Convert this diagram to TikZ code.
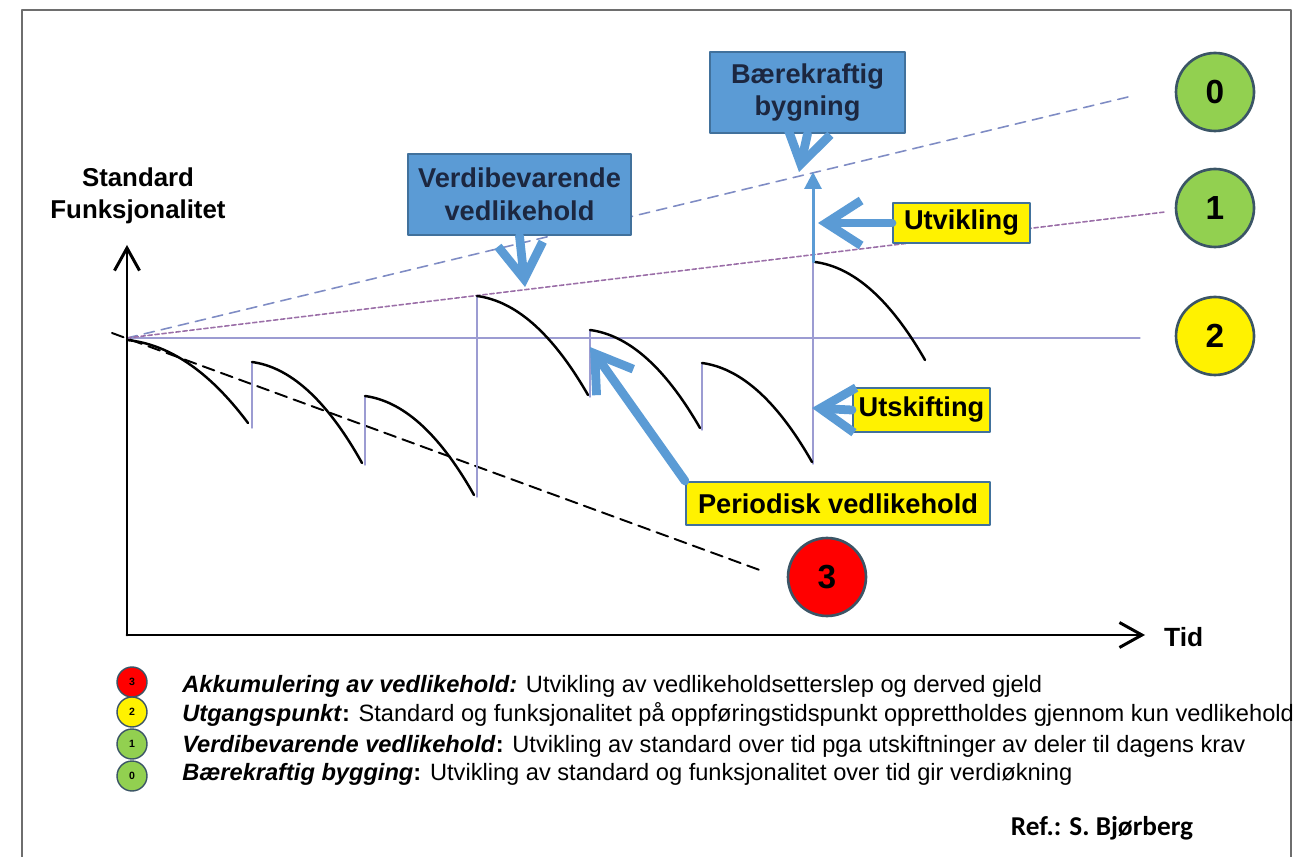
\documentclass[tikz,border=0pt]{standalone}
\usepackage{fontspec}
\setmainfont{Liberation Sans}
\newfontfamily\reffont{Carlito}
\usetikzlibrary{arrows.meta}

\definecolor{boxblue}{HTML}{5B9BD5}
\definecolor{boxedge}{HTML}{41719C}
\definecolor{navytext}{HTML}{1C2740}
\definecolor{ringedge}{HTML}{3B5566}
\definecolor{lightgreen}{HTML}{92D050}
\definecolor{lavender}{HTML}{9C9CD2}
\definecolor{dashblue}{HTML}{7F8CC4}
\definecolor{dotpurple}{HTML}{9B6FA8}
\definecolor{framegray}{HTML}{6E6E6E}

\tikzset{
  bluebox/.style={draw=boxedge, fill=boxblue, line width=1.2pt, text=navytext,
    font=\fontsize{15.5}{18.5}\selectfont\bfseries, align=center, inner sep=0pt},
  yellowbox/.style={draw=boxedge, fill=yellow, line width=1.2pt,
    font=\fontsize{15.5}{18.5}\selectfont\bfseries, inner sep=0pt},
  ring/.style={circle, draw=ringedge, line width=1.5pt, minimum size=1.56cm,
    inner sep=0pt, font=\fontsize{19}{22}\selectfont\bfseries},
  miniring/.style={circle, draw=ringedge, line width=0.8pt, minimum size=0.6cm,
    inner sep=0pt, font=\fontsize{6}{7}\selectfont\bfseries},
  fatarrow/.style={draw=boxblue, line width=5pt, -{Straight Barb[length=7mm, width=9mm]}},
  tooth/.style={line width=1.4pt},
  jump/.style={draw=lavender, line width=0.8pt},
  legtext/.style={anchor=west, inner sep=0pt, font=\fontsize{13.45}{16}\selectfont},
}

\begin{document}
\begin{tikzpicture}[x=0.02cm, y=-0.02cm, line join=round, line cap=round]
  \useasboundingbox (0,0) rectangle (1294,857);
  % frame
  \draw[framegray, line width=1pt] (22,857) |- (1291,10) -- (1291,857);

  % points of the axes and the lines
  \coordinate (O) at (127,635);
  \coordinate (yEnd) at (127,245);
  \coordinate (xEnd) at (1145,635);
  \coordinate (start) at (127,338);
  \coordinate (end0) at (1128,97);
  \coordinate (end1) at (1165,212);
  \coordinate (end2) at (1140,338);
  \coordinate (start3) at (112,333);
  \coordinate (end3) at (765,572);

  % level lines
  \draw[lavender, line width=0.6pt] (start) -- (end2);
  \draw[dashblue, line width=0.9pt, dash pattern=on 6pt off 4pt] (start) -- (end0);
  \draw[dotpurple, line width=0.9pt, dash pattern=on 2.5pt off 1.5pt] (start) -- (end1);
  \draw[line width=1.1pt, dash pattern=on 7pt off 4pt] (start3) -- (end3);

  % axes
  \draw[line width=1.7pt, -{Straight Barb[length=4.5mm, width=5mm]}] (O) -- (yEnd);
  \draw[line width=1.7pt, -{Straight Barb[length=4.5mm, width=5mm]}] (O) -- (xEnd);
  \node[font=\fontsize{15}{18}\selectfont\bfseries, anchor=west] (tid) at (1158,637) {Tid};
  \node[font=\fontsize{14.7}{18}\selectfont\bfseries, align=center] (ylab) at (138,196)
    {Standard\\Funksjonalitet};

  % jumps and teeth
  \foreach \xj/\ylo/\yhi in {252/428/362, 365/465/396, 477/497/296,
                             590/397/330, 702/430/363, 813/464/262}
    \draw[jump] (\xj,\ylo) -- (\xj,\yhi);
  \foreach \xa/\ya/\xb/\yb in {127/340/248/423, 252/362/362/463, 365/396/474/495,
                               477/296/588/395, 590/330/700/428, 702/363/812/462,
                               815/262/925/360}
    \draw[tooth] (\xa,\ya) .. controls ({\xa+(\xb-\xa)/3},{\ya+(\yb-\ya)*0.05})
      and ({\xa+2*(\xb-\xa)/3},{\ya+(\yb-\ya)*0.35}) .. (\xb,\yb);

  % rise to the upper line
  \coordinate (upStart) at (813,262);
  \coordinate (upEnd) at (813,172);
  \draw[boxblue, line width=1.7pt, -{Triangle[length=3.4mm, width=3.4mm]}] (upStart) -- (upEnd);

  % labels
  \node[bluebox, minimum width=4.46cm, minimum height=1.62cm] (verdi) at (519.5,194.5)
    {Verdibevarende\\vedlikehold};
  \node[bluebox, minimum width=3.9cm, minimum height=1.62cm] (baerek) at (807.5,92.5)
    {Bærekraftig\\bygning};
  \node[yellowbox, minimum width=2.74cm, minimum height=0.8cm] (utvikling) at (961.5,223) {Utvikling};
  \node[yellowbox, minimum width=2.74cm, minimum height=0.88cm] (utskift) at (921.5,410) {Utskifting};
  \node[yellowbox, minimum width=6.08cm, minimum height=0.86cm] (periodisk) at (838,503.5)
    {Periodisk vedlikehold};

  \coordinate (verdiTip) at (525,287);
  \coordinate (baerekTip) at (799,172);
  \coordinate (utvTip) at (818,223);
  \coordinate (utsTip) at (812,408);
  \coordinate (perTip) at (590,347);
  \draw[fatarrow] (verdi.south) -- (verdiTip);
  \draw[fatarrow] (baerek.south) -- (baerekTip);
  \draw[fatarrow] (utvikling.west) -- (utvTip);
  \draw[fatarrow] (utskift.west) -- (utsTip);
  \draw[fatarrow] (periodisk.north west) -- (perTip);

  % level markers
  \node[ring, fill=lightgreen] (c0) at (1215,92) {0};
  \node[ring, fill=lightgreen] (c1) at (1215,208) {1};
  \node[ring, fill=yellow] (c2) at (1215,336) {2};
  \node[ring, fill=red] (c3) at (827,577) {3};

  % legend
  \node[miniring, fill=red] (m3) at (132,682) {3};
  \node[miniring, fill=yellow] (m2) at (132,712) {2};
  \node[miniring, fill=lightgreen] (m1) at (132,744) {1};
  \node[miniring, fill=lightgreen] (m0) at (132,776) {0};
  \node[legtext] (l3) at (182,686) {\textbf{\textit{Akkumulering av vedlikehold:}} Utvikling av vedlikeholdsetterslep og derved gjeld};
  \node[legtext] (l2) at (182,714) {\textbf{\textit{Utgangspunkt}}\textbf{:} Standard og funksjonalitet på oppføringstidspunkt opprettholdes gjennom kun vedlikehold};
  \node[legtext] (l1) at (182,746) {\textbf{\textit{Verdibevarende vedlikehold}}\textbf{:} Utvikling av standard over tid pga utskiftninger av deler til dagens krav};
  \node[legtext] (l0) at (182,774) {\textbf{\textit{Bærekraftig bygging}}\textbf{:} Utvikling av standard og funksjonalitet over tid gir verdiøkning};

  \node[font=\reffont\fontsize{15.5}{18}\selectfont\bfseries] (ref) at (1102,828) {Ref.: S. Bjørberg};
\end{tikzpicture}
\end{document}
